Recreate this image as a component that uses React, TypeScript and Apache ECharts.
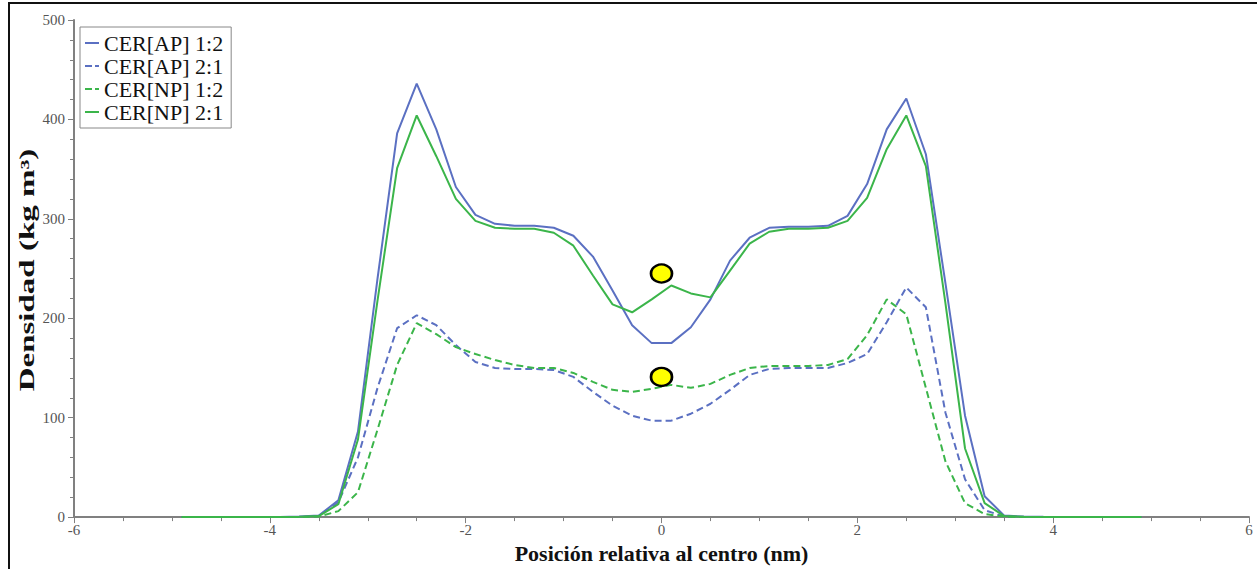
import React, { useEffect, useRef } from "react";
import * as echarts from "echarts";

const positions = [
  -4.9, -4.7, -4.5, -4.3, -4.1, -3.9, -3.7, -3.5, -3.3, -3.1,
  -2.9, -2.7, -2.5, -2.3, -2.1, -1.9, -1.7, -1.5, -1.3, -1.1,
  -0.9, -0.7, -0.5, -0.3, -0.1, 0.1, 0.3, 0.5, 0.7, 0.9,
  1.1, 1.3, 1.5, 1.7, 1.9, 2.1, 2.3, 2.5, 2.7, 2.9,
  3.1, 3.3, 3.5, 3.7, 3.9, 4.1, 4.3, 4.5, 4.7, 4.9,
];

const ap12 = [
  0, 0, 0, 0, 0, 0, 0.5, 1.5, 17, 86,
  240, 386, 436, 390, 332, 304, 295, 293, 293, 291,
  283, 262, 228, 193, 175, 175, 191, 219, 258, 281,
  291, 292, 292, 293, 303, 335, 390, 421, 365, 235,
  102, 21, 1.5, 0.5, 0.3, 0.2, 0, 0, 0, 0,
];

const ap21 = [
  0, 0, 0, 0, 0, 0, 0, 1, 15, 60,
  130, 190, 203, 193, 173, 156, 150, 149, 149, 148,
  141, 126, 112, 102, 97, 97, 104, 114, 128, 143,
  149, 150, 150, 150, 155, 164, 196, 231, 211, 105,
  38, 7, 0.5, 0, 0, 0, 0, 0, 0, 0,
];

const np12 = [
  0, 0, 0, 0, 0, 0, 0, 0.5, 6, 25,
  88, 153, 195, 184, 171, 164, 158, 153, 150, 150,
  145, 136, 128, 126, 129, 133, 130, 134, 143, 150,
  152, 152, 152, 153, 159, 183, 219, 204, 130, 56,
  14, 3, 0.5, 0, 0, 0, 0, 0, 0, 0,
];

const np21 = [
  0, 0, 0, 0, 0, 0, 0.3, 1, 13, 78,
  218, 351, 404, 363, 320, 298, 291, 290, 290, 286,
  273, 243, 214, 206, 219, 233, 225, 221, 248, 275,
  287, 290, 290, 291, 298, 321, 370, 404, 353, 215,
  69, 14, 1, 0.3, 0, 0, 0, 0, 0, 0,
];

const seriesNames = ["CER[AP] 1:2", "CER[AP] 2:1", "CER[NP] 1:2", "CER[NP] 2:1"];
const seriesDashed = [false, true, true, false];
const markerX = [0, 0];
const markerY = [245, 141];

const BLUE = "#5b70c2";
const GREEN = "#3bb54a";
const SERIF = "'Liberation Serif', 'Times New Roman', serif";

const SOLID_ICON = "path://M0,0 H14 V2 H0 Z";
const DASH_ICON = "path://M0,0 H7 V2 H0 Z M10,0 H14 V2 H10 Z";

const pairs = (ys: number[]) => positions.map((x, i) => [x, ys[i]]);

export default function App() {
  const ref = useRef<HTMLDivElement>(null);

  useEffect(() => {
    document.body.style.margin = "0";
    if (!ref.current) return;
    const chart = echarts.init(ref.current, null, { renderer: "svg" });
    const lineSeries = (name: string, ys: number[], color: string, dashed: boolean) => ({
      name,
      type: "line",
      data: pairs(ys),
      symbol: "none",
      showSymbol: false,
      lineStyle: { color, width: 2, type: dashed ? [7, 4] : "solid" },
      itemStyle: { color },
      z: 3,
    });
    chart.setOption({
      animation: false,
      backgroundColor: "#ffffff",
      graphic: [
        {
          type: "rect",
          shape: { x: 9, y: 3, width: 1270, height: 590 },
          style: { fill: "none", stroke: "#111", lineWidth: 2 },
          silent: true,
          z: 100,
        },
        {
          type: "text",
          x: 27,
          y: 270,
          rotation: Math.PI / 2,
          scaleX: 1.65,
          style: {
            text: "Densidad (kg m³)",
            fontFamily: SERIF,
            fontSize: 20,
            fontWeight: "bold",
            fill: "#111",
            align: "center",
            verticalAlign: "middle",
          },
          silent: true,
        },
      ],
      grid: { left: 74, right: 8, top: 20, bottom: 50, containLabel: false },
      legend: {
        data: seriesNames.map((n, i) => ({ name: n, icon: seriesDashed[i] ? DASH_ICON : SOLID_ICON })),
        orient: "vertical",
        left: 80,
        top: 27,
        backgroundColor: "#ffffff",
        borderColor: "#888888",
        borderWidth: 1,
        borderRadius: 0,
        padding: [5, 8, 5, 5],
        itemGap: 1,
        itemWidth: 14,
        itemHeight: 14,
        textStyle: { fontFamily: SERIF, fontSize: 22, lineHeight: 22, color: "#111" },
      },
      xAxis: {
        type: "value",
        min: -6,
        max: 6,
        interval: 2,
        name: "Posición relativa al centro (nm)",
        nameLocation: "middle",
        nameGap: 22,
        nameTextStyle: { fontFamily: SERIF, fontSize: 22, fontWeight: "bold", color: "#111" },
        axisLine: { show: true, onZero: false, lineStyle: { color: "#808080", width: 2 } },
        axisTick: { show: true, length: 6, lineStyle: { color: "#808080" } },
        minorTick: { show: true, splitNumber: 4, length: 4, lineStyle: { color: "#808080" } },
        axisLabel: { fontFamily: SERIF, fontSize: 15, color: "#555", margin: 5 },
        splitLine: { show: false },
      },
      yAxis: {
        type: "value",
        min: 0,
        max: 500,
        interval: 100,
        axisLine: { show: true, onZero: false, lineStyle: { color: "#808080", width: 2 } },
        axisTick: { show: true, length: 6, lineStyle: { color: "#808080" } },
        minorTick: { show: true, splitNumber: 5, length: 4, lineStyle: { color: "#808080" } },
        axisLabel: { fontFamily: SERIF, fontSize: 15, color: "#555", margin: 9 },
        splitLine: { show: false },
      },
      series: [
        lineSeries(seriesNames[0], ap12, BLUE, seriesDashed[0]),
        lineSeries(seriesNames[1], ap21, BLUE, seriesDashed[1]),
        lineSeries(seriesNames[2], np12, GREEN, seriesDashed[2]),
        lineSeries(seriesNames[3], np21, GREEN, seriesDashed[3]),
        {
          name: "marcadores",
          type: "scatter",
          data: markerX.map((x, i) => [x, markerY[i]]),
          symbol: "circle",
          symbolSize: [21, 18],
          itemStyle: { color: "#ffff00", borderColor: "#000000", borderWidth: 2.5, opacity: 1 },
          z: 5,
        },
      ],
    });
    return () => chart.dispose();
  }, []);

  return <div ref={ref} style={{ width: 1257, height: 569 }} />;
}
